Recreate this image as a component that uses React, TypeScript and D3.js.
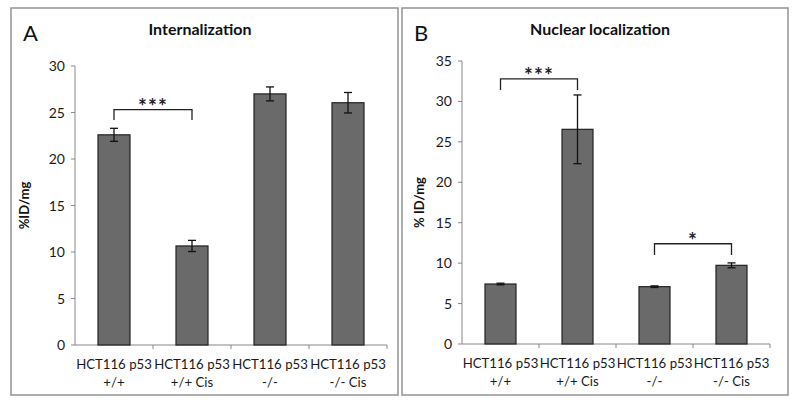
import React from "react";
import * as d3 from "d3";

const categories = ["HCT116 p53|+/+", "HCT116 p53|+/+ Cis", "HCT116 p53|-/-", "HCT116 p53|-/- Cis"];
const internalization = [22.6, 10.65, 27.0, 26.05];
const internalizationErr = [0.7, 0.6, 0.75, 1.1];
const nuclear = [7.42, 26.55, 7.09, 9.73];
const nuclearErr = [0.1, 4.25, 0.1, 0.3];
const ticksA = [0, 5, 10, 15, 20, 25, 30];
const ticksB = [0, 5, 10, 15, 20, 25, 30, 35];

const FONT = "Lato, 'Open Sans', sans-serif";

type Sig = { from: number; to: number; y: number; leg: number; label: string };

function Panel(props: {
  box: [number, number, number, number];
  letter: string; title: string; titleX: number; ylabel: string; ylabelX: number;
  x0: number; x1: number; yTop: number; yBottom: number; ymax: number; ticks: number[];
  values: number[]; errs: number[]; sigs: Sig[]; barW: number;
}) {
  const p = props;
  const x = d3.scaleBand<string>().domain(categories).range([p.x0, p.x1]);
  const y = d3.scaleLinear().domain([0, p.ymax]).range([p.yBottom, p.yTop]);
  const bw = x.bandwidth();
  const [bx0, by0, bx1, by1] = p.box;
  return (
    <g>
      <rect x={bx0} y={by0} width={bx1 - bx0} height={by1 - by0} fill="white" stroke="#9a9a9a" strokeWidth={1.6} />
      <text x={bx0 + 12} y={41} fontFamily={FONT} fontSize={22} fill="#111">{p.letter}</text>
      <text x={p.titleX} y={35} textAnchor="middle" fontFamily={FONT} fontSize={16} fontWeight="bold" fill="#111">{p.title}</text>
      <text transform={`translate(${p.ylabelX},${(p.yTop + p.yBottom) / 2}) rotate(-90)`} textAnchor="middle" fontFamily={FONT} fontSize={13} fontWeight="bold" fill="#111">{p.ylabel}</text>
      {/* y axis */}
      <line x1={p.x0} x2={p.x0} y1={p.yTop} y2={p.yBottom} stroke="#888" strokeWidth={1} />
      {p.ticks.map((t) => (
        <g key={t}>
          <line x1={p.x0 - 4} x2={p.x0} y1={y(t)} y2={y(t)} stroke="#888" strokeWidth={1} />
          <text x={p.x0 - 10} y={y(t)} dy="0.36em" textAnchor="end" fontFamily={FONT} fontSize={14} fill="#1a1a1a">{t}</text>
        </g>
      ))}
      {/* x axis */}
      <line x1={p.x0} x2={p.x1} y1={p.yBottom} y2={p.yBottom} stroke="#888" strokeWidth={1} />
      {categories.map((c) => (
        <line key={c} x1={(x(c) as number) + bw} x2={(x(c) as number) + bw} y1={p.yBottom} y2={p.yBottom + 4} stroke="#888" strokeWidth={1} />
      ))}
      {categories.map((c, i) => {
        const cx = (x(c) as number) + bw / 2;
        const v = p.values[i];
        const e = p.errs[i];
        const parts = c.split("|");
        return (
          <g key={c}>
            <rect x={cx - p.barW / 2} y={y(v)} width={p.barW} height={p.yBottom - y(v)} fill="#6a6a6a" stroke="#222" strokeWidth={1.2} />
            <line x1={cx} x2={cx} y1={y(v + e)} y2={y(v - e)} stroke="#111" strokeWidth={1.3} />
            <line x1={cx - 4} x2={cx + 4} y1={y(v + e)} y2={y(v + e)} stroke="#111" strokeWidth={1.3} />
            <line x1={cx - 4} x2={cx + 4} y1={y(v - e)} y2={y(v - e)} stroke="#111" strokeWidth={1.3} />
            <text x={cx} y={p.yBottom + 24} textAnchor="middle" fontFamily={FONT} fontSize={13.2} fill="#1a1a1a">{parts[0]}</text>
            <text x={cx} y={p.yBottom + 42} textAnchor="middle" fontFamily={FONT} fontSize={13.2} fill="#1a1a1a">{parts[1]}</text>
          </g>
        );
      })}
      {p.sigs.map((s, i) => {
        const xa = (x(categories[s.from]) as number) + bw / 2;
        const xb = (x(categories[s.to]) as number) + bw / 2;
        const yy = y(s.y);
        const yl = y(s.leg);
        return (
          <g key={i}>
            <path d={`M${xa},${yl}V${yy}H${xb}V${yl}`} fill="none" stroke="#222" strokeWidth={1.3} />
            <text x={(xa + xb) / 2} y={yy + 4} textAnchor="middle" fontFamily={FONT} fontSize={21} fontWeight="bold" letterSpacing={1} fill="#222">{s.label}</text>
          </g>
        );
      })}
    </g>
  );
}

export default function App() {
  return (
    <svg width={800} height={407} style={{ display: "block", position: "absolute", left: 0, top: 0 }}>
      <rect width={800} height={407} fill="white" />
      <Panel box={[11, 8, 398, 395]} letter="A" title="Internalization" titleX={200} ylabel="%ID/mg" ylabelX={29}
        x0={75} x1={387} yTop={66} yBottom={345} ymax={30} ticks={ticksA}
        values={internalization} errs={internalizationErr} barW={32}
        sigs={[{ from: 0, to: 1, y: 25.3, leg: 24.2, label: "***" }]} />
      <Panel box={[402, 8, 788, 395]} letter="B" title="Nuclear localization" titleX={600} ylabel="% ID/mg" ylabelX={424}
        x0={462} x1={770} yTop={61} yBottom={344} ymax={35} ticks={ticksB}
        values={nuclear} errs={nuclearErr} barW={31}
        sigs={[
          { from: 0, to: 1, y: 32.8, leg: 31.4, label: "***" },
          { from: 2, to: 3, y: 12.4, leg: 11.0, label: "*" },
        ]} />
    </svg>
  );
}
